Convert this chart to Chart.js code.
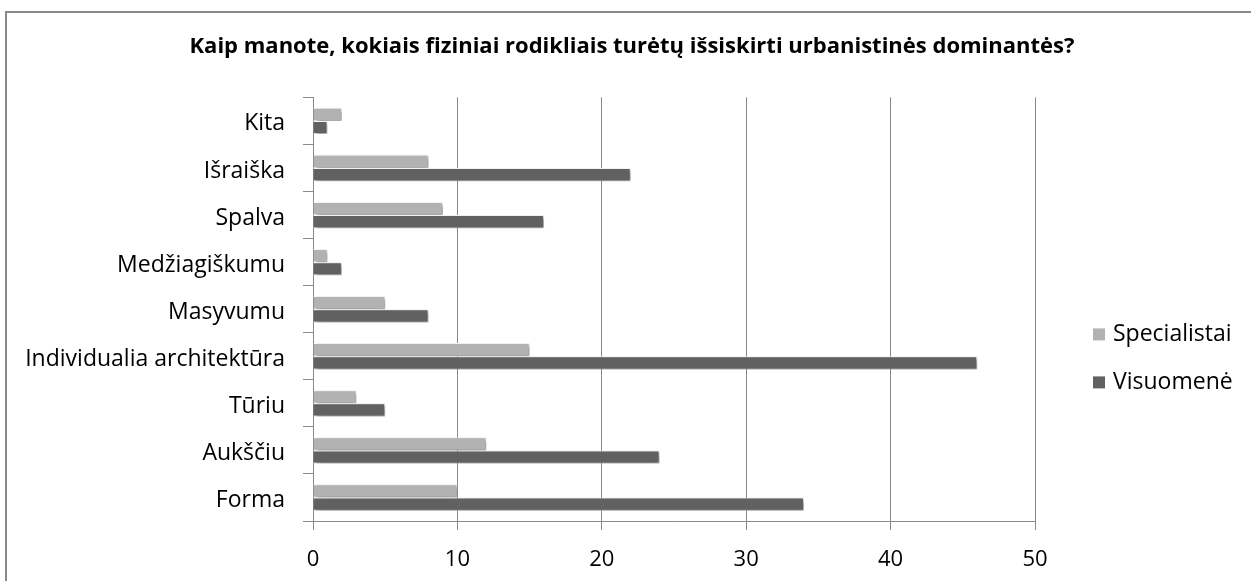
<!DOCTYPE html>
<html>
<head>
<meta charset="utf-8">
<title>Urbanistinės dominantės</title>
<script src="https://cdn.jsdelivr.net/npm/chart.js@4.4.1/dist/chart.umd.min.js"></script>
<style>
  html, body { margin: 0; padding: 0; background: #fff; }
  #wrap { position: relative; width: 1251px; height: 581px; overflow: hidden; }
  #frame { position: absolute; left: 5px; top: 11px; width: 1400px; height: 800px;
           border-left: 2px solid #898989; border-top: 2px solid #898989; }
  canvas { position: absolute; left: 0; top: 0; }
</style>
</head>
<body>
<div id="wrap">
  <div id="frame"></div>
  <canvas id="myChart" width="1251" height="581"></canvas>
</div>
<script>
// values
const categories = ['Kita', 'Išraiška', 'Spalva', 'Medžiagiškumu', 'Masyvumu',
                    'Individualia architektūra', 'Tūriu', 'Aukščiu', 'Forma'];
const specialistai = [2, 8, 9, 1, 5, 15, 3, 12, 10];
const visuomene = [1, 22, 16, 2, 8, 46, 5, 24, 34];
const xTicks = [0, 10, 20, 30, 40, 50];
const seriesNames = ['Specialistai', 'Visuomenė'];
const seriesColors = ['#b2b2b2', '#616161'];
const chartTitle = 'Kaip manote, kokiais fiziniai rodikliais turėtų išsiskirti urbanistinės dominantės?';

const FONT = '"Open Sans", Lato, sans-serif';
const GRID = '#898989';

// excel-ish drop shadow under the bars
const barShadow = {
  id: 'barShadow',
  beforeDatasetsDraw(chart) {
    const c = chart.ctx;
    c.save();
    c.shadowColor = 'rgba(0,0,0,0.45)';
    c.shadowBlur = 4;
    c.shadowOffsetX = 2;
    c.shadowOffsetY = 2;
  },
  afterDatasetsDraw(chart) {
    chart.ctx.restore();
  }
};

// legend sits to the right of the plot, a bit below the middle
const sideLegend = {
  id: 'sideLegend',
  afterDraw(chart) {
    const c = chart.ctx;
    const a = chart.chartArea;
    c.save();
    c.font = '23px ' + FONT;
    c.textBaseline = 'middle';
    chart.data.datasets.forEach((ds, i) => {
      const x = a.right + 58;
      const y = a.top + 237 + i * 48;
      c.fillStyle = ds.backgroundColor;
      c.fillRect(x, y - 6, 12, 12);
      c.fillStyle = '#000';
      c.fillText(ds.label, x + 20, y);
    });
    c.restore();
  }
};

const ctx = document.getElementById('myChart').getContext('2d');
const myChart = new Chart(ctx, {
  type: 'bar',
  data: {
    labels: categories,
    datasets: [
      {
        label: seriesNames[0],
        data: specialistai,
        backgroundColor: seriesColors[0],
        borderColor: '#fff',
        borderWidth: 1
      },
      {
        label: seriesNames[1],
        data: visuomene,
        backgroundColor: seriesColors[1],
        borderColor: '#fff',
        borderWidth: 1
      }
    ]
  },
  options: {
    indexAxis: 'y',
    responsive: false,
    animation: false,
    categoryPercentage: 0.56,
    barPercentage: 1,
    layout: { padding: { left: 13, right: 0, top: 0, bottom: 0 } },
    scales: {
      x: {
        min: xTicks[0],
        max: xTicks[xTicks.length - 1],
        ticks: { stepSize: xTicks[1] - xTicks[0], color: '#000', padding: 17,
                 font: { family: FONT, size: 22 } },
        grid: { color: GRID, tickColor: GRID, tickLength: 9 },
        border: { color: GRID },
        afterFit(s) { s.height = 60; }
      },
      y: {
        ticks: { color: '#000', padding: 18, labelOffset: 3, font: { family: FONT, size: 23 } },
        grid: { offset: true, drawOnChartArea: false, tickLength: 10, color: GRID },
        border: { color: GRID },
        afterFit(s) { s.width = 300; }
      },
      // empty box on the right, keeps room for the legend
      legendSpace: {
        type: 'linear',
        axis: 'y',
        position: 'right',
        grid: { display: false },
        border: { display: false },
        ticks: { display: false },
        afterFit(s) { s.width = 216; }
      }
    },
    plugins: {
      legend: { display: false },
      tooltip: { enabled: false },
      title: {
        display: true,
        text: chartTitle,
        color: '#000',
        font: { family: FONT, size: 22, weight: 'bold' },
        padding: { top: 34, bottom: 37 }
      }
    }
  },
  plugins: [barShadow, sideLegend]
});
</script>
</body>
</html>
